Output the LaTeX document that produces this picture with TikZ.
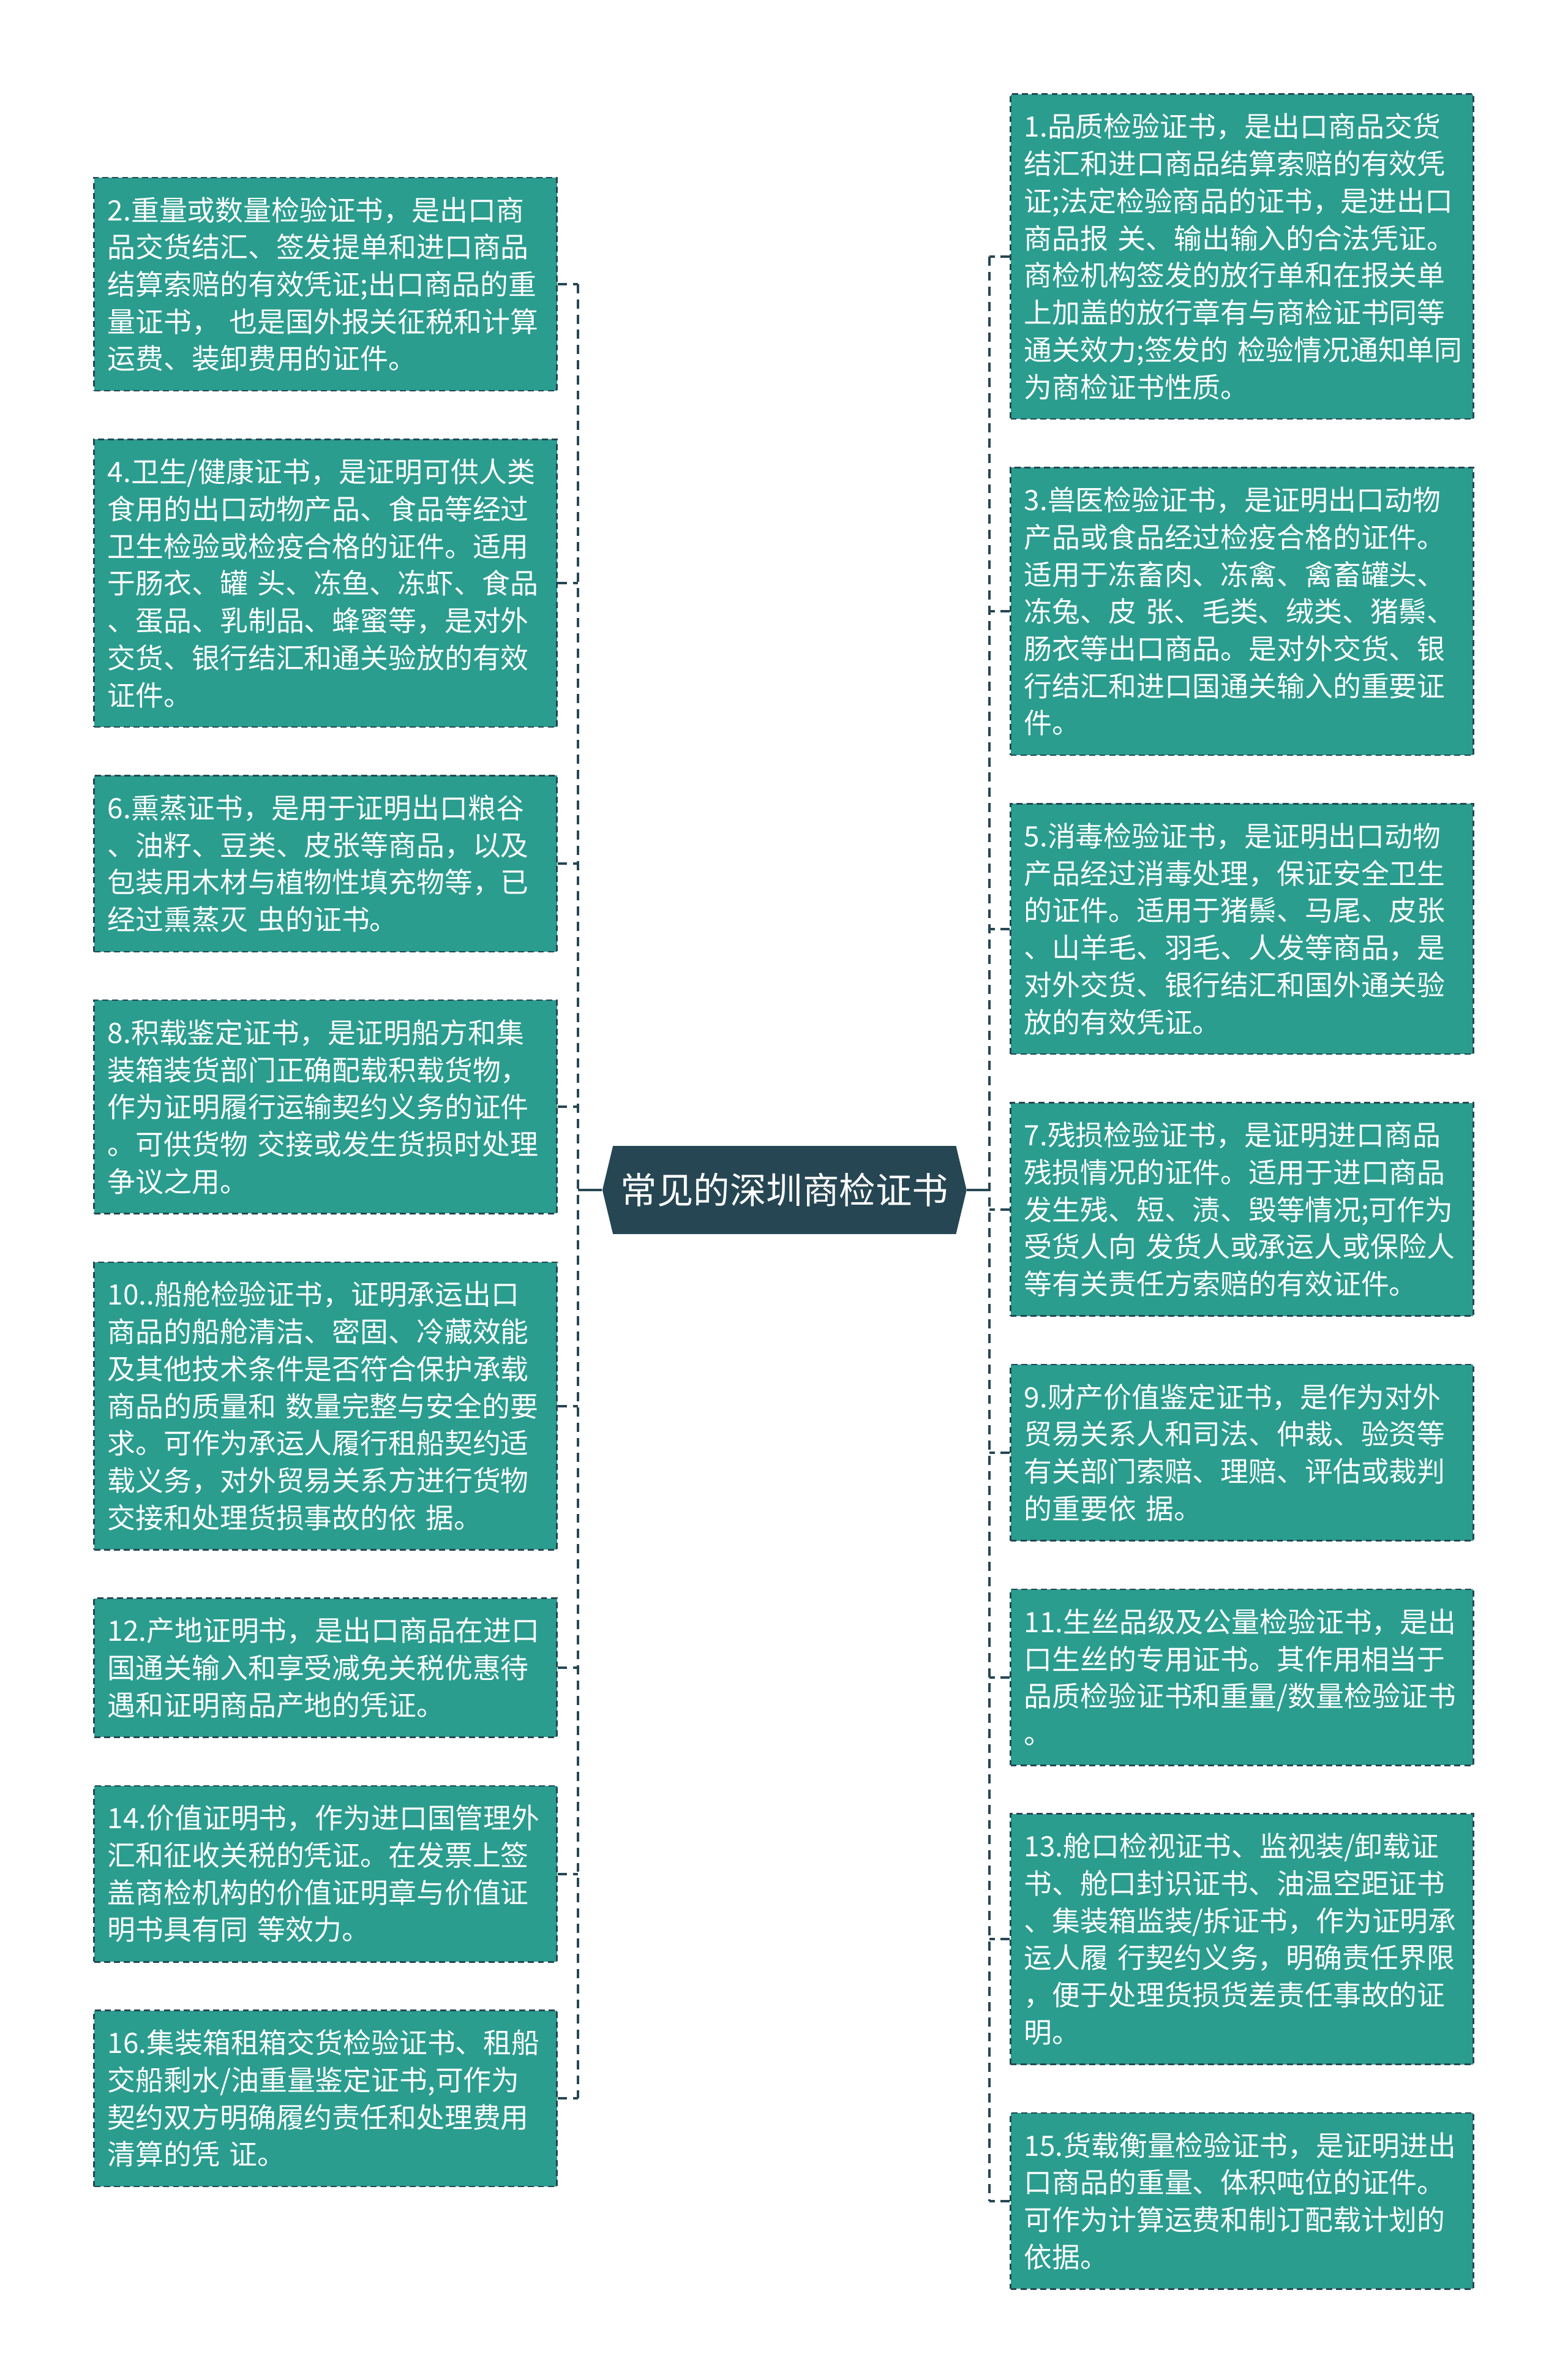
\documentclass[tikz,border=0pt]{standalone}
\usepackage{fontspec}
\newfontfamily\cjkfont{Noto Sans CJK SC}
\usetikzlibrary{shapes.symbols}
\definecolor{leafteal}{HTML}{2A9D8F}
\definecolor{slate}{HTML}{264653}

\begin{document}
\begin{tikzpicture}[x=1pt, y=-1pt,
  leaf/.style={draw=slate, line width=1pt, dash pattern=on 4pt off 2.5pt,
    fill=leafteal, text=white, text width=287pt, inner xsep=9pt, inner ysep=3pt,
    align=left, font=\cjkfont\fontsize{18.5}{24.5}\selectfont},
  hub/.style={signal, signal to=west and east, signal pointer angle=153,
    fill=slate, text=white, minimum width=240pt, minimum height=58pt,
    inner sep=0pt, font=\cjkfont\fontsize{24}{28}\selectfont},
  spine/.style={draw=slate, line width=1.6pt, dash pattern=on 6pt off 4pt},
  stub/.style={draw=slate, line width=1.6pt}]
  % Page
  \fill[white] (0,0) rectangle (1033,1568);
  \useasboundingbox (0,0) rectangle (1033,1568);
  % Root
  \node[hub] (root) at (517,784) {常见的深圳商检证书};
  \coordinate (ls) at (381,784);
  \coordinate (rs) at (652,784);
  % Left column
  \node[leaf, minimum height=140.5pt] (b2) at (214.5,187.25) {2.重量或数量检验证书，是出口商\\
品交货结汇、签发提单和进口商品\\
结算索赔的有效凭证;出口商品的重\\
量证书，~也是国外报关征税和计算\\
运费、装卸费用的证件。};
  \node[leaf, minimum height=189.5pt] (b4) at (214.5,384.25) {4.卫生/健康证书，是证明可供人类\\
食用的出口动物产品、食品等经过\\
卫生检验或检疫合格的证件。适用\\
于肠衣、罐~头、冻鱼、冻虾、食品\\
、蛋品、乳制品、蜂蜜等，是对外\\
交货、银行结汇和通关验放的有效\\
证件。};
  \node[leaf, minimum height=116pt] (b6) at (214.5,569) {6.熏蒸证书，是用于证明出口粮谷\\
、油籽、豆类、皮张等商品，以及\\
包装用木材与植物性填充物等，已\\
经过熏蒸灭~虫的证书。};
  \node[leaf, minimum height=140.5pt] (b8) at (214.5,729.25) {8.积载鉴定证书，是证明船方和集\\
装箱装货部门正确配载积载货物，\\
作为证明履行运输契约义务的证件\\
。可供货物~交接或发生货损时处理\\
争议之用。};
  \node[leaf, minimum height=189.5pt] (b10) at (214.5,926.25) {10..船舱检验证书，证明承运出口\\
商品的船舱清洁、密固、冷藏效能\\
及其他技术条件是否符合保护承载\\
商品的质量和~数量完整与安全的要\\
求。可作为承运人履行租船契约适\\
载义务，对外贸易关系方进行货物\\
交接和处理货损事故的依~据。};
  \node[leaf, minimum height=91.5pt] (b12) at (214.5,1098.75) {12.产地证明书，是出口商品在进口\\
国通关输入和享受减免关税优惠待\\
遇和证明商品产地的凭证。};
  \node[leaf, minimum height=116pt] (b14) at (214.5,1234.5) {14.价值证明书，作为进口国管理外\\
汇和征收关税的凭证。在发票上签\\
盖商检机构的价值证明章与价值证\\
明书具有同~等效力。};
  \node[leaf, minimum height=116pt] (b16) at (214.5,1382.5) {16.集装箱租箱交货检验证书、租船\\
交船剩水/油重量鉴定证书,可作为\\
契约双方明确履约责任和处理费用\\
清算的凭~证。};
  % Right column
  \node[leaf, minimum height=214pt] (b1) at (818.5,169) {1.品质检验证书，是出口商品交货\\
结汇和进口商品结算索赔的有效凭\\
证;法定检验商品的证书，是进出口\\
商品报~关、输出输入的合法凭证。\\
商检机构签发的放行单和在报关单\\
上加盖的放行章有与商检证书同等\\
通关效力;签发的~检验情况通知单同\\
为商检证书性质。};
  \node[leaf, minimum height=189.5pt] (b3) at (818.5,402.75) {3.兽医检验证书，是证明出口动物\\
产品或食品经过检疫合格的证件。\\
适用于冻畜肉、冻禽、禽畜罐头、\\
冻兔、皮~张、毛类、绒类、猪鬃、\\
肠衣等出口商品。是对外交货、银\\
行结汇和进口国通关输入的重要证\\
件。};
  \node[leaf, minimum height=165pt] (b5) at (818.5,612) {5.消毒检验证书，是证明出口动物\\
产品经过消毒处理，保证安全卫生\\
的证件。适用于猪鬃、马尾、皮张\\
、山羊毛、羽毛、人发等商品，是\\
对外交货、银行结汇和国外通关验\\
放的有效凭证。};
  \node[leaf, minimum height=140.5pt] (b7) at (818.5,796.75) {7.残损检验证书，是证明进口商品\\
残损情况的证件。适用于进口商品\\
发生残、短、渍、毁等情况;可作为\\
受货人向~发货人或承运人或保险人\\
等有关责任方索赔的有效证件。};
  \node[leaf, minimum height=116pt] (b9) at (818.5,957) {9.财产价值鉴定证书，是作为对外\\
贸易关系人和司法、仲裁、验资等\\
有关部门索赔、理赔、评估或裁判\\
的重要依~据。};
  \node[leaf, minimum height=116pt] (b11) at (818.5,1105) {11.生丝品级及公量检验证书，是出\\
口生丝的专用证书。其作用相当于\\
品质检验证书和重量/数量检验证书\\
。};
  \node[leaf, minimum height=165pt] (b13) at (818.5,1277.5) {13.舱口检视证书、监视装/卸载证\\
书、舱口封识证书、油温空距证书\\
、集装箱监装/拆证书，作为证明承\\
运人履~行契约义务，明确责任界限\\
，便于处理货损货差责任事故的证\\
明。};
  \node[leaf, minimum height=116pt] (b15) at (818.5,1450) {15.货载衡量检验证书，是证明进出\\
口商品的重量、体积吨位的证件。\\
可作为计算运费和制订配载计划的\\
依据。};
  % Connectors
  \draw[stub] (root.west) -- (ls);
  \draw[stub] (root.east) -- (rs);
  \draw[spine] (ls |- b2.east) -- (ls |- b16.east);
  \draw[spine] (rs |- b1.west) -- (rs |- b15.west);
  \foreach \n in {2,4,...,16}
    \draw[spine] (b\n.east) -- (ls |- b\n.east);
  \foreach \n in {1,3,...,15}
    \draw[spine] (b\n.west) -- (rs |- b\n.west);
\end{tikzpicture}
\end{document}
